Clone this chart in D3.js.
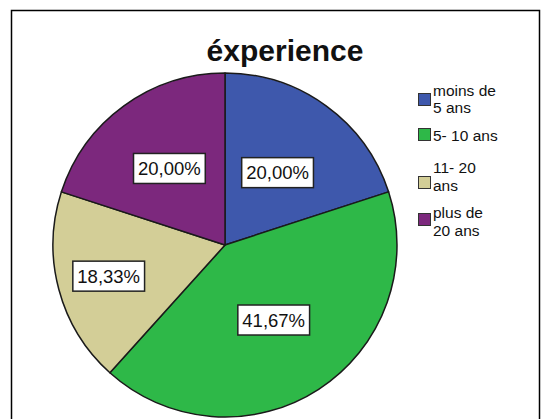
<!DOCTYPE html>
<html>
<head>
<meta charset="utf-8">
<script src="https://cdn.jsdelivr.net/npm/d3@7"></script>
<style>
  html, body { margin: 0; padding: 0; background: #fff; }
  svg { display: block; font-family: "Liberation Sans", Arial, sans-serif; }
</style>
</head>
<body>
<svg id="chart" width="550" height="419"></svg>
<script>
// Répartition des répondants selon l'expérience
const categories = ["moins de 5 ans", "5- 10 ans", "11- 20 ans", "plus de 20 ans"];
const legendLines = [["moins de", "5 ans"], ["5- 10 ans"], ["11- 20", "ans"], ["plus de", "20 ans"]];
const percents = [20.00, 41.67, 18.33, 20.00];
const colors = ["#3e58ac", "#2eb848", "#d3ce97", "#7c287d"];
// radial position of each value label, as a fraction of the radius
const labelRadius = [0.52, 0.52, 0.70, 0.55];

const svg = d3.select("#chart");

// outer frame
svg.append("rect")
  .attr("x", 11.5).attr("y", 10.5)
  .attr("width", 528).attr("height", 430)
  .attr("fill", "none").attr("stroke", "#000").attr("stroke-width", 1.5);

// title
svg.append("text")
  .attr("x", 285).attr("y", 61)
  .attr("text-anchor", "middle")
  .attr("font-size", 30).attr("font-weight", "bold")
  .attr("fill", "#111")
  .text("éxperience");

const cx = 225, cy = 245, r = 172;
const g = svg.append("g").attr("transform", `translate(${cx},${cy})`);

const pie = d3.pie().sort(null).value(d => d);
const arcs = pie(percents);
const arc = d3.arc().innerRadius(0).outerRadius(r);

g.selectAll("path.slice")
  .data(arcs)
  .join("path")
  .attr("class", "slice")
  .attr("d", arc)
  .attr("fill", (d, i) => colors[i])
  .attr("stroke", "#1a1a1a")
  .attr("stroke-width", 1.5)
  .attr("stroke-linejoin", "round");

const fmt = v => v.toFixed(2).replace(".", ",") + "%";

const labels = g.selectAll("g.lab")
  .data(arcs)
  .join("g")
  .attr("class", "lab")
  .attr("transform", (d, i) => {
    const lr = r * labelRadius[i];
    const c = d3.arc().innerRadius(lr).outerRadius(lr).centroid(d);
    return `translate(${c[0]},${c[1]})`;
  });

labels.each(function(d) {
  const sel = d3.select(this);
  const t = sel.append("text")
    .attr("text-anchor", "middle")
    .attr("dominant-baseline", "central")
    .attr("font-size", 18.5)
    .attr("fill", "#111")
    .text(fmt(d.data));
  const bb = t.node().getBBox();
  sel.insert("rect", "text")
    .attr("x", bb.x - 4.5).attr("y", -15)
    .attr("width", bb.width + 9).attr("height", 30)
    .attr("fill", "#fff").attr("stroke", "#222").attr("stroke-width", 1.5);
});

// legend: first-line baseline and swatch top for each entry
const legendBase = [95.5, 141, 173, 218];
const swatchTop = [93, 128, 176, 213];
const lineStep = 17.5;
categories.forEach((c, i) => {
  const lg = svg.append("g").attr("class", "legend-item");
  lg.append("rect")
    .attr("x", 418.5).attr("y", swatchTop[i] + 0.5)
    .attr("width", 12).attr("height", 12)
    .attr("fill", colors[i]).attr("stroke", "#333").attr("stroke-width", 1);
  legendLines[i].forEach((ln, j) => {
    lg.append("text")
      .attr("x", 433).attr("y", legendBase[i] + j * lineStep)
      .attr("font-size", 15.5).attr("fill", "#111")
      .text(ln);
  });
});
</script>
</body>
</html>
